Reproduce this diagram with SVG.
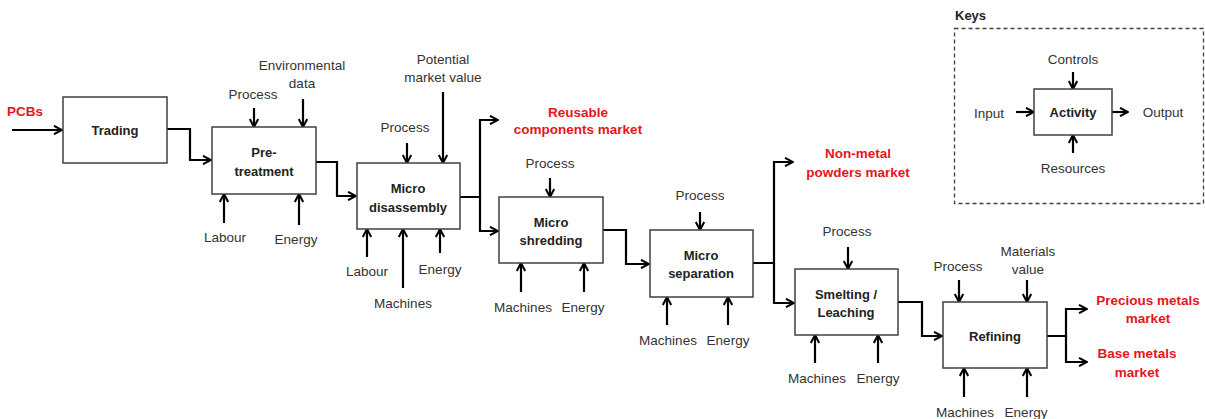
<svg xmlns="http://www.w3.org/2000/svg" width="1205" height="419" viewBox="0 0 1205 419">
<defs>
<marker id="ah" viewBox="0 0 10 10" refX="9" refY="5" markerWidth="10" markerHeight="10" markerUnits="userSpaceOnUse" orient="auto">
<path d="M1,0.8 L9,5 L1,9.2" fill="none" stroke="#000" stroke-width="2"/>
</marker>
<style>
.box{fill:#fff;stroke:#404040;stroke-width:1.5}
.kb{fill:none;stroke:#404040;stroke-width:1.3;stroke-dasharray:4,3}
.c{fill:none;stroke:#000;stroke-width:2.2;marker-end:url(#ah)}
text{font-family:"Liberation Sans",Arial,sans-serif;text-anchor:middle;dominant-baseline:central}
.t{font-size:13px;font-weight:bold;fill:#222}
.l{font-size:13.5px;fill:#333}
.r{font-size:13.5px;font-weight:bold;fill:#e8141b}
</style>
</defs>
<rect width="1205" height="419" fill="#fff"/>

<g id="connectors">
<path class="c" d="M12,130 H62"/>
<path class="c" d="M167,129 H190 V160 H211"/>
<path class="c" d="M316,162 H337 V196 H356"/>
<path class="c" d="M460,197 H480 V120 H498"/>
<path class="c" d="M480,197 V231 H498"/>
<path class="c" d="M603,230 H626 V264 H649"/>
<path class="c" d="M753,263 H774 V162 H793"/>
<path class="c" d="M774,263 V303 H794"/>
<path class="c" d="M898,302 H922 V336 H942"/>
<path class="c" d="M1047,336 H1066 V309 H1087"/>
<path class="c" d="M1066,336 V362 H1087"/>
<path class="c" d="M254,108 V127"/>
<path class="c" d="M303,99 V127"/>
<path class="c" d="M407,143 V163"/>
<path class="c" d="M443,92 V163"/>
<path class="c" d="M550,178 V197"/>
<path class="c" d="M700,212 V230"/>
<path class="c" d="M848,247 V269"/>
<path class="c" d="M959,280 V302"/>
<path class="c" d="M1027,280 V302"/>
<path class="c" d="M224,223 V194"/>
<path class="c" d="M299,225 V194"/>
<path class="c" d="M367,257 V229"/>
<path class="c" d="M403,288 V229"/>
<path class="c" d="M440,253 V229"/>
<path class="c" d="M521,292 V263"/>
<path class="c" d="M584,292 V263"/>
<path class="c" d="M667,325 V297"/>
<path class="c" d="M728,325 V297"/>
<path class="c" d="M815,363 V335"/>
<path class="c" d="M878,363 V335"/>
<path class="c" d="M964,397 V368"/>
<path class="c" d="M1027,397 V368"/>
<path class="c" d="M1073,72 V89"/>
<path class="c" d="M1016,112 H1034"/>
<path class="c" d="M1112,112 H1128"/>
<path class="c" d="M1073,153 V135"/>
</g>

<g id="trading">
<rect class="box" x="63" y="97" width="104" height="66"/>
<text class="t" x="115" y="130">Trading</text>
</g>
<g id="pretreatment">
<rect class="box" x="212" y="127" width="104" height="67"/>
<text class="t" x="264" y="152">Pre-</text>
<text class="t" x="264" y="171">treatment</text>
</g>
<g id="microdisassembly">
<rect class="box" x="357" y="163" width="103" height="66"/>
<text class="t" x="408" y="188">Micro</text>
<text class="t" x="408" y="207">disassembly</text>
</g>
<g id="microshredding">
<rect class="box" x="499" y="197" width="104" height="66"/>
<text class="t" x="551" y="222">Micro</text>
<text class="t" x="551" y="240">shredding</text>
</g>
<g id="microseparation">
<rect class="box" x="650" y="230" width="103" height="67"/>
<text class="t" x="701" y="255">Micro</text>
<text class="t" x="701" y="273">separation</text>
</g>
<g id="smelting">
<rect class="box" x="795" y="269" width="103" height="66"/>
<text class="t" x="846" y="294">Smelting /</text>
<text class="t" x="846" y="312">Leaching</text>
</g>
<g id="refining">
<rect class="box" x="943" y="302" width="104" height="66"/>
<text class="t" x="995" y="336">Refining</text>
</g>

<g id="labels">
<text class="r" x="25" y="111">PCBs</text>
<text class="l" x="253" y="94">Process</text>
<text class="l" x="302" y="65">Environmental</text>
<text class="l" x="302" y="83">data</text>
<text class="l" x="225" y="237">Labour</text>
<text class="l" x="296" y="239">Energy</text>
<text class="l" x="405" y="127">Process</text>
<text class="l" x="443" y="59">Potential</text>
<text class="l" x="443" y="77">market value</text>
<text class="l" x="367" y="271">Labour</text>
<text class="l" x="403" y="303">Machines</text>
<text class="l" x="440" y="269">Energy</text>
<text class="r" x="578" y="112">Reusable</text>
<text class="r" x="578" y="129">components market</text>
<text class="l" x="550" y="163">Process</text>
<text class="l" x="523" y="307">Machines</text>
<text class="l" x="583" y="307">Energy</text>
<text class="l" x="700" y="195">Process</text>
<text class="l" x="668" y="340">Machines</text>
<text class="l" x="728" y="340">Energy</text>
<text class="r" x="858" y="153">Non-metal</text>
<text class="r" x="858" y="172">powders market</text>
<text class="l" x="847" y="231">Process</text>
<text class="l" x="817" y="378">Machines</text>
<text class="l" x="878" y="378">Energy</text>
<text class="l" x="958" y="266">Process</text>
<text class="l" x="1028" y="251">Materials</text>
<text class="l" x="1028" y="269">value</text>
<text class="l" x="965" y="412">Machines</text>
<text class="l" x="1026" y="412">Energy</text>
<text class="r" x="1148" y="300">Precious metals</text>
<text class="r" x="1148" y="318">market</text>
<text class="r" x="1137" y="353">Base metals</text>
<text class="r" x="1137" y="372">market</text>
</g>

<g id="keys">
<text class="t" x="955" y="15" style="text-anchor:start">Keys</text>
<rect class="kb" x="954.5" y="28.5" width="249" height="175"/>
<g id="activity">
<rect class="box" x="1034" y="89" width="78" height="46"/>
<text class="t" x="1073" y="112">Activity</text>
</g>
<text class="l" x="1073" y="59">Controls</text>
<text class="l" x="989" y="113">Input</text>
<text class="l" x="1163" y="112">Output</text>
<text class="l" x="1073" y="168">Resources</text>
</g>
</svg>
